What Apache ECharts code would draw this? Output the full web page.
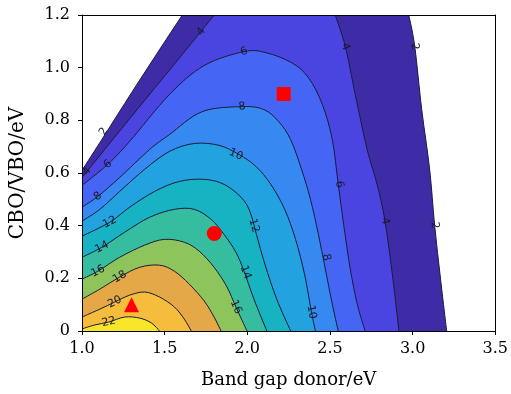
<!DOCTYPE html>
<html>
<head>
<meta charset="utf-8">
<script src="https://cdn.jsdelivr.net/npm/echarts@6/dist/echarts.min.js"></script>
<style>
html, body { margin: 0; padding: 0; background: #fff; }
#chart { width: 511px; height: 394px; }
</style>
</head>
<body>
<div id="chart"></div>
<script>
// contour levels (value at each line)
const levels = [2, 4, 6, 8, 10, 12, 14, 16, 18, 20, 22]
const bandColors = ['#3d2ca6', '#4a44e0', '#4566f4', '#3589f0', '#22a3e0', '#17b3c2', '#36bc9e', '#8ec45c', '#e4a946', '#f6bd3c', '#f7e52a']

// contour lines: [band gap donor, CBO/VBO]
const contour2 = [[1.00, 0.61], [1.13, 0.737], [1.30, 0.905], [1.45, 1.05], [1.607, 1.20], [2.977, 1.20], [3.013, 1.08], [3.055, 0.841], [3.103, 0.614], [3.133, 0.402], [3.169, 0.197], [3.206, 0]]
const contour4 = [[1.00, 0.583], [1.30, 0.815], [1.60, 1.045], [1.80, 1.20], [2.532, 1.20], [2.593, 1.08], [2.653, 0.898], [2.725, 0.689], [2.785, 0.557], [2.833, 0.417], [2.881, 0.197], [2.917, 0]]
const contour6 = [[1.00, 0.553], [1.156, 0.633], [1.288, 0.72], [1.529, 0.898], [1.739, 1.008], [1.98, 1.061], [2.112, 1.057], [2.268, 1.019], [2.37, 0.962], [2.454, 0.86], [2.514, 0.727], [2.55, 0.557], [2.587, 0.386], [2.623, 0.235], [2.665, 0.102], [2.713, 0]]
const contour8 = [[1.00, 0.47], [1.096, 0.511], [1.228, 0.583], [1.409, 0.689], [1.529, 0.746], [1.727, 0.833], [1.968, 0.852], [2.10, 0.841], [2.19, 0.795], [2.262, 0.727], [2.328, 0.614], [2.382, 0.50], [2.43, 0.367], [2.472, 0.235], [2.514, 0.102], [2.55, 0]]
const contour10 = [[1.00, 0.417], [1.108, 0.462], [1.228, 0.53], [1.379, 0.614], [1.529, 0.682], [1.679, 0.712], [1.829, 0.705], [1.95, 0.67], [2.052, 0.625], [2.142, 0.557], [2.226, 0.462], [2.292, 0.348], [2.346, 0.216], [2.388, 0.072], [2.412, 0]]
const contour12 = [[1.00, 0.36], [1.168, 0.413], [1.288, 0.47], [1.439, 0.53], [1.589, 0.568], [1.739, 0.576], [1.859, 0.557], [1.962, 0.508], [2.015, 0.455], [2.055, 0.367], [2.106, 0.254], [2.178, 0.121], [2.262, 0]]
const contour14 = [[1.00, 0.28], [1.12, 0.318], [1.258, 0.375], [1.409, 0.432], [1.559, 0.462], [1.679, 0.462], [1.781, 0.424], [1.859, 0.367], [1.931, 0.299], [1.98, 0.227], [2.04, 0.121], [2.118, 0]]
const contour16 = [[1.00, 0.197], [1.096, 0.227], [1.228, 0.28], [1.379, 0.326], [1.499, 0.348], [1.619, 0.337], [1.709, 0.303], [1.799, 0.242], [1.877, 0.167], [1.931, 0.091], [1.998, 0]]
const contour18 = [[1.00, 0.121], [1.108, 0.159], [1.228, 0.205], [1.349, 0.242], [1.469, 0.25], [1.559, 0.227], [1.649, 0.178], [1.739, 0.114], [1.799, 0.053], [1.841, 0]]
const contour20 = [[1.00, 0.053], [1.108, 0.083], [1.198, 0.11], [1.288, 0.136], [1.379, 0.148], [1.469, 0.129], [1.559, 0.091], [1.619, 0.045], [1.661, 0]]
const contour22 = [[1.00, 0.008], [1.078, 0.023], [1.162, 0.034], [1.258, 0.053], [1.349, 0.049], [1.421, 0.03], [1.469, 0]]

const contours = [contour2, contour4, contour6, contour8, contour10, contour12, contour14, contour16, contour18, contour20, contour22]

// inline labels: [x, y, level]
const contourLabels = [
    [1.132, 0.758, 2], [3.013, 1.08, 2], [3.133, 0.402, 2],
    [1.03, 0.606, 4], [1.721, 1.136, 4], [2.593, 1.08, 4], [2.833, 0.417, 4],
    [1.156, 0.633, 6], [1.98, 1.061, 6], [2.556, 0.557, 6],
    [1.096, 0.511, 8], [1.968, 0.852, 8], [2.478, 0.28, 8],
    [1.931, 0.67, 10], [2.388, 0.072, 10],
    [1.168, 0.413, 12], [2.04, 0.40, 12],
    [1.12, 0.318, 14], [1.99, 0.223, 14],
    [1.096, 0.227, 16], [1.931, 0.091, 16],
    [1.228, 0.205, 18],
    [1.198, 0.11, 20],
    [1.162, 0.034, 22]
]

// red markers
const squarePoint = [[2.22, 0.90]]
const circlePoint = [[1.80, 0.37]]
const trianglePoint = [[1.30, 0.10]]

const xTicks = { min: 1.0, max: 3.5, step: 0.5 }
const yTicks = { min: 0, max: 1.2, step: 0.2 }

const TOP = 1.2

// split a contour where it leaves through the top edge
function pieces(pts) {
    const out = [[pts[0]]]
    for (let k = 1; k < pts.length; k++) {
        const a = pts[k - 1], b = pts[k]
        if (a[1] >= TOP && b[1] >= TOP) out.push([b])
        else out[out.length - 1].push(b)
    }
    return out
}

// catmull-rom through pixel points -> bezier path segments
function curve(px, start) {
    let d = start ? 'M' + px[0][0] + ',' + px[0][1] : 'L' + px[0][0] + ',' + px[0][1]
    for (let k = 0; k < px.length - 1; k++) {
        const p0 = px[k - 1] || px[k], p1 = px[k], p2 = px[k + 1], p3 = px[k + 2] || px[k + 1]
        const c1 = [p1[0] + (p2[0] - p0[0]) / 6, p1[1] + (p2[1] - p0[1]) / 6]
        const c2 = [p2[0] - (p3[0] - p1[0]) / 6, p2[1] - (p3[1] - p1[1]) / 6]
        d += 'C' + c1[0] + ',' + c1[1] + ' ' + c2[0] + ',' + c2[1] + ' ' + p2[0] + ',' + p2[1]
    }
    return d
}

function labelAngle(px, lx, ly) {
    let best = 0, bestD = Infinity
    for (let k = 0; k < px.length - 1; k++) {
        const a = px[k], b = px[k + 1]
        const vx = b[0] - a[0], vy = b[1] - a[1]
        const len2 = vx * vx + vy * vy || 1
        let t = ((lx - a[0]) * vx + (ly - a[1]) * vy) / len2
        t = Math.max(0, Math.min(1, t))
        const dx = a[0] + t * vx - lx, dy = a[1] + t * vy - ly
        const dd = dx * dx + dy * dy
        if (dd < bestD) { bestD = dd; best = k }
    }
    const a = px[best], b = px[best + 1]
    let ang = Math.atan2(-(b[1] - a[1]), b[0] - a[0])
    if (ang > Math.PI / 2) ang -= Math.PI
    if (ang < -Math.PI / 2) ang += Math.PI
    return ang
}

const chart = echarts.init(document.getElementById('chart'))

const serifFont = 'DejaVu Serif'

const option = {
    animation: false,
    grid: { left: 82, right: 13, top: 15, bottom: 62 },
    xAxis: [{
        type: 'value', min: xTicks.min, max: xTicks.max, interval: xTicks.step, z: 10,
        name: 'Band gap donor/eV', nameLocation: 'middle', nameGap: 40,
        nameTextStyle: { color: '#000', fontFamily: serifFont, fontSize: 18 },
        axisLine: { onZero: false, lineStyle: { color: '#000', width: 1 } },
        axisTick: { show: true, length: 4, lineStyle: { color: '#000' } },
        axisLabel: { color: '#000', fontFamily: serifFont, fontSize: 16, margin: 10, formatter: v => v.toFixed(1) },
        splitLine: { show: false }
    }, {
        type: 'value', position: 'top', min: xTicks.min, max: xTicks.max, z: 10,
        axisLine: { onZero: false, lineStyle: { color: '#000', width: 1 } },
        axisTick: { show: false }, axisLabel: { show: false }, splitLine: { show: false }
    }],
    yAxis: [{
        type: 'value', min: yTicks.min, max: yTicks.max, interval: yTicks.step, z: 10,
        name: 'CBO/VBO/eV', nameLocation: 'middle', nameGap: 54,
        nameTextStyle: { color: '#000', fontFamily: serifFont, fontSize: 20 },
        axisLine: { onZero: false, lineStyle: { color: '#000', width: 1 } },
        axisTick: { show: true, length: 4, lineStyle: { color: '#000' } },
        axisLabel: { color: '#000', fontFamily: serifFont, fontSize: 16, margin: 12, formatter: v => v === 0 ? '0' : v.toFixed(1) },
        splitLine: { show: false }
    }, {
        type: 'value', position: 'right', min: yTicks.min, max: yTicks.max, z: 10,
        axisLine: { onZero: false, lineStyle: { color: '#000', width: 1 } },
        axisTick: { show: false }, axisLabel: { show: false }, splitLine: { show: false }
    }],
    series: [{
        // filled bands, lowest level first
        type: 'custom', silent: true, clip: true, z: 1,
        data: contours.map(c => c[0]),
        renderItem: (params, api) => {
            const parts = pieces(contours[params.dataIndex]).map(p => p.map(q => api.coord(q)))
            let d = ''
            parts.forEach((p, i) => { d += curve(p, i === 0) })
            const corner = api.coord([xTicks.min, yTicks.min])
            d += 'L' + corner[0] + ',' + corner[1] + 'Z'
            return { type: 'path', shape: { pathData: d }, style: { fill: bandColors[params.dataIndex], stroke: null } }
        }
    }, {
        // contour lines
        type: 'custom', silent: true, clip: true, z: 2,
        data: contours.map(c => c[0]),
        renderItem: (params, api) => {
            const parts = pieces(contours[params.dataIndex]).map(p => p.map(q => api.coord(q)))
            return {
                type: 'group',
                children: parts.map(p => ({
                    type: 'path', shape: { pathData: curve(p, true) },
                    style: { fill: null, stroke: '#1a1a3c', lineWidth: 1 }
                }))
            }
        }
    }, {
        // contour labels
        type: 'custom', silent: true, z: 3,
        data: contourLabels.map(l => [l[0], l[1]]),
        renderItem: (params, api) => {
            const lab = contourLabels[params.dataIndex]
            const p = api.coord([lab[0], lab[1]])
            const line = contours[levels.indexOf(lab[2])].map(q => api.coord(q))
            return {
                type: 'text', x: p[0], y: p[1], rotation: labelAngle(line, p[0], p[1]),
                style: { text: String(lab[2]), fill: '#1a1a2e', font: '11px "DejaVu Sans"', align: 'center', verticalAlign: 'middle' }
            }
        }
    }, {
        type: 'scatter', name: 'square', data: squarePoint, symbol: 'rect', symbolSize: 14, z: 5,
        itemStyle: { color: '#ff0000', opacity: 1 }
    }, {
        type: 'scatter', name: 'circle', data: circlePoint, symbol: 'circle', symbolSize: 15, z: 5,
        itemStyle: { color: '#ff0000', opacity: 1 }
    }, {
        type: 'scatter', name: 'triangle', data: trianglePoint, symbol: 'triangle', symbolSize: 15, z: 5,
        itemStyle: { color: '#ff0000', opacity: 1 }
    }]
}

chart.setOption(option)
</script>
</body>
</html>
